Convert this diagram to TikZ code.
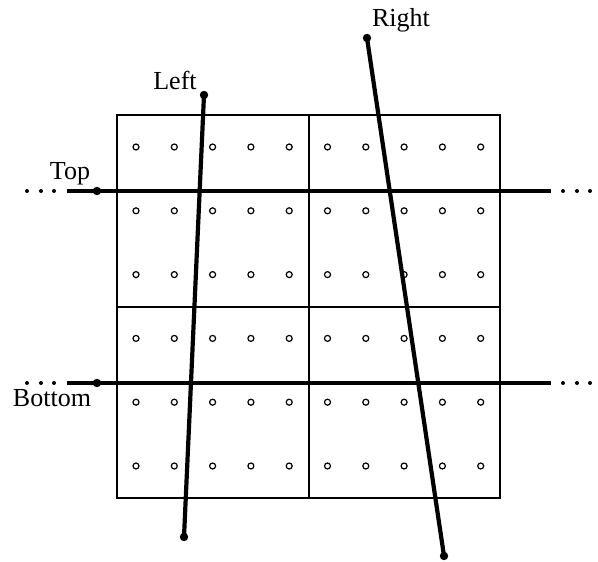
\documentclass[tikz,border=0pt]{standalone}
\usepackage{fontspec}
\setmainfont{Liberation Serif}

\begin{document}
\begin{tikzpicture}[x=0.5pt,y=-0.5pt,line width=0.65pt,
  cut/.style={line width=2.1pt},
  tip/.style={circle,fill,inner sep=0pt,minimum size=4.2pt},
  hole/.style={circle,draw,inner sep=0pt,minimum size=3pt,line width=0.6pt},
  more/.style={circle,fill,inner sep=0pt,minimum size=2pt},
  lbl/.style={font=\fontsize{13}{15}\selectfont,inner sep=0pt,anchor=base}]
  \useasboundingbox (0,0) rectangle (598,561);
  % tiles
  \draw (117,115) rectangle (500,498);
  \draw (309,115) -- (309,498);
  \draw (117,307) -- (500,307);
  % holes
  \foreach \i in {0,...,9}
    \foreach \j in {0,...,5}
      \node[hole] at ({136+38.3*\i},{147+63.8*\j}) {};
  % cut ends
  \coordinate (topW) at (67,191);    \coordinate (topE) at (551,191);
  \coordinate (botW) at (67,383);    \coordinate (botE) at (551,383);
  \node[tip] (topTip) at (97,191) {};
  \node[tip] (botTip) at (97,383) {};
  \node[tip] (leftN) at (204,95) {};  \node[tip] (leftS) at (184,537) {};
  \node[tip] (rightN) at (367,38) {}; \node[tip] (rightS) at (444,556) {};
  % cuts
  \draw[cut] (topW) -- (topE);
  \draw[cut] (botW) -- (botE);
  \draw[cut] (leftN.center) -- (leftS.center);
  \draw[cut] (rightN.center) -- (rightS.center);
  % continues
  \foreach \y in {191,383}{
    \foreach \x in {27,41,54,563,577,590}
      \node[more] at (\x,\y) {};
  }
  % labels
  \node[lbl] (leftLbl) at (175,90) {Left};
  \node[lbl] (rightLbl) at (401,27) {Right};
  \node[lbl] (topLbl) at (70,179) {Top};
  \node[lbl] (botLbl) at (52,406.5) {Bottom};
\end{tikzpicture}
\end{document}
